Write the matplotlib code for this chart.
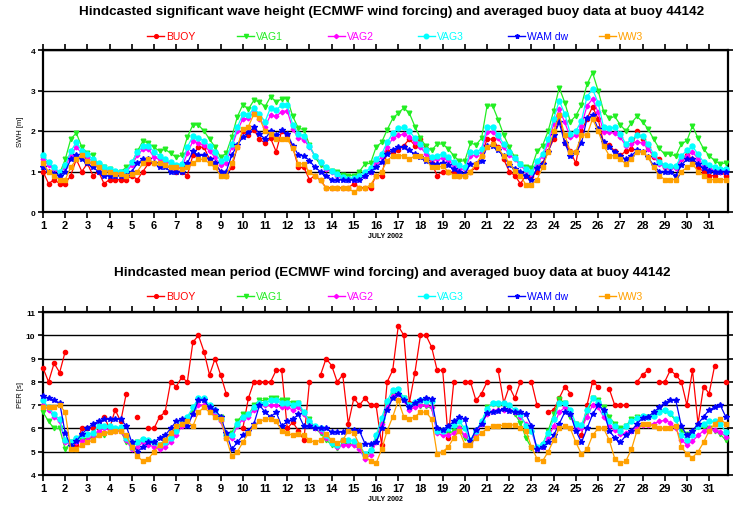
import numpy as np
import matplotlib
matplotlib.use('Agg')
import matplotlib.pyplot as plt
from matplotlib.lines import Line2D

plt.rcParams['font.family'] = ['Liberation Sans', 'DejaVu Sans']

# time axis: 6-hourly values, July 1.00 ... July 31.75
days = np.arange(1, 32, 0.25)
day_ticks = list(range(1, 32))
series_names = ['BUOY', 'VAG1', 'VAG2', 'VAG3', 'WAM dw', 'WW3']

# ---------------- significant wave height [m] ----------------
swh_buoy = [1.0, 0.7, 0.8, 0.7, 0.7, 0.9, 1.3, 1.0, 1.2, 0.9, 1.0, 0.7, 0.8, 0.8, 0.8, 0.8,
            0.9, 0.8, 1.0, 1.2, 1.2, 1.2, 1.15, 1.1, 1.0, 1.0, 0.9, 1.4, 1.6, 1.6, 1.3, 1.2,
            1.0, 0.9, 1.1, 1.6, 2.0, 1.9, 2.03, 1.8, 1.7, 1.82, 1.49, 2.0, 1.89, 1.6, 1.1, 1.1,
            0.8, 0.9, 0.78, 0.6, 0.6, 0.6, 0.6, 0.6, 0.7, 0.6, 0.6, 0.6, 0.9, 0.9, 1.5, 1.48,
            1.52, 1.64, 1.8, 1.64, 1.8, 1.56, 1.21, 0.9, 1.0, 1.0, 0.98, 0.9, 0.9, 1.0, 1.1, 1.39,
            1.8, 1.8, 1.6, 1.3, 1.0, 0.9, 0.7, 0.9, 0.9, 1.0, 1.2, 1.5, 1.8, 2.4, 1.7, 1.5,
            1.2, 2.0, 2.3, 2.6, 2.3, 1.7, 1.65, 1.5, 1.4, 1.5, 1.55, 2.0, 1.8, 1.6, 1.35, 1.3,
            1.1, 1.1, 1.1, 1.3, 1.4, 1.3, 1.1, 1.0, 0.9, 0.9, 1.0, 0.9]
swh_vag1 = [1.3, 1.2, 1.05, 0.95, 1.3, 1.8, 1.95, 1.6, 1.45, 1.4, 1.15, 1.1, 1.05, 1.0, 1.0, 1.1,
            1.2, 1.5, 1.75, 1.7, 1.6, 1.5, 1.55, 1.45, 1.35, 1.4, 1.85, 2.15, 2.15, 2.0, 1.8, 1.6,
            1.35, 1.45, 1.85, 2.35, 2.65, 2.54, 2.76, 2.72, 2.6, 2.85, 2.72, 2.79, 2.8, 2.36, 2.07, 2.03,
            1.66, 1.35, 1.16, 1.07, 1.02, 0.98, 0.92, 0.9, 0.9, 1.0, 1.19, 1.2, 1.6, 1.72, 2.03, 2.31,
            2.44, 2.57, 2.44, 2.11, 1.82, 1.62, 1.52, 1.68, 1.68, 1.56, 1.39, 1.25, 1.27, 1.7, 1.66, 1.82,
            2.62, 2.62, 2.28, 1.9, 1.6, 1.35, 1.19, 1.1, 1.08, 1.5, 1.64, 2.0, 2.5, 3.07, 2.7, 2.23,
            2.38, 2.64, 3.15, 3.44, 3.0, 2.48, 2.31, 2.36, 2.15, 2.0, 2.2, 2.36, 2.23, 2.05, 1.8, 1.57,
            1.43, 1.43, 1.38, 1.68, 1.76, 2.13, 1.82, 1.56, 1.39, 1.27, 1.19, 1.21]
swh_vag2 = [1.3, 1.15, 1.05, 0.95, 1.1, 1.4, 1.6, 1.45, 1.35, 1.25, 1.15, 1.05, 1.0, 1.0, 0.95, 1.0,
            1.15, 1.4, 1.55, 1.55, 1.35, 1.3, 1.25, 1.2, 1.1, 1.1, 1.45, 1.75, 1.7, 1.65, 1.5, 1.35,
            1.15, 1.2, 1.6, 2.0, 2.3, 2.31, 2.48, 2.3, 2.11, 2.39, 2.36, 2.48, 2.5, 2.05, 1.82, 1.79,
            1.6, 1.39, 1.23, 1.07, 0.98, 0.9, 0.84, 0.78, 0.78, 0.82, 0.9, 0.98, 1.23, 1.35, 1.6, 1.82,
            1.89, 1.93, 1.84, 1.72, 1.6, 1.43, 1.3, 1.3, 1.33, 1.27, 1.16, 1.07, 1.05, 1.39, 1.41, 1.48,
            1.98, 1.97, 1.82, 1.6, 1.41, 1.3, 1.15, 1.02, 0.94, 1.19, 1.38, 1.68, 2.17, 2.54, 2.21, 1.84,
            1.89, 2.13, 2.62, 2.79, 2.46, 1.97, 1.97, 1.95, 1.84, 1.64, 1.68, 1.74, 1.7, 1.56, 1.38, 1.19,
            1.1, 1.08, 1.08, 1.31, 1.39, 1.48, 1.31, 1.16, 1.08, 1.02, 1.0, 0.98]
swh_vag3 = [1.4, 1.23, 1.1, 0.98, 1.15, 1.5, 1.72, 1.5, 1.43, 1.3, 1.2, 1.1, 1.07, 1.02, 0.98, 1.02,
            1.23, 1.48, 1.62, 1.64, 1.48, 1.39, 1.3, 1.23, 1.16, 1.19, 1.6, 1.87, 1.82, 1.76, 1.64, 1.48,
            1.25, 1.33, 1.68, 2.09, 2.42, 2.4, 2.56, 2.42, 2.23, 2.58, 2.52, 2.64, 2.64, 2.15, 1.93, 1.87,
            1.62, 1.39, 1.23, 1.1, 1.02, 0.94, 0.86, 0.82, 0.84, 0.89, 1.0, 1.08, 1.31, 1.43, 1.72, 1.95,
            2.07, 2.09, 2.0, 1.82, 1.68, 1.52, 1.35, 1.39, 1.43, 1.35, 1.23, 1.15, 1.1, 1.48, 1.48, 1.56,
            2.11, 2.11, 1.89, 1.68, 1.48, 1.33, 1.19, 1.07, 0.98, 1.25, 1.43, 1.8, 2.3, 2.75, 2.42, 1.93,
            2.0, 2.25, 2.85, 3.03, 2.7, 2.09, 2.07, 2.09, 1.93, 1.68, 1.8, 1.89, 1.87, 1.68, 1.43, 1.23,
            1.15, 1.13, 1.13, 1.39, 1.52, 1.62, 1.43, 1.23, 1.16, 1.1, 1.07, 1.07]
swh_wam = [1.1, 1.0, 0.95, 0.9, 1.0, 1.3, 1.4, 1.3, 1.2, 1.1, 1.0, 0.9, 0.9, 0.9, 0.9, 0.9,
           1.0, 1.2, 1.3, 1.3, 1.2, 1.1, 1.1, 1.0, 1.0, 1.0, 1.2, 1.5, 1.4, 1.4, 1.3, 1.2,
           1.0, 1.0, 1.4, 1.65, 1.85, 1.97, 2.09, 1.93, 1.8, 2.0, 1.89, 2.03, 1.93, 1.64, 1.41, 1.39,
           1.27, 1.1, 1.0, 0.9, 0.8, 0.8, 0.8, 0.8, 0.8, 0.8, 0.9, 1.0, 1.1, 1.23, 1.43, 1.54,
           1.6, 1.6, 1.52, 1.43, 1.35, 1.27, 1.19, 1.19, 1.21, 1.15, 1.07, 0.98, 0.94, 1.19, 1.19, 1.25,
           1.62, 1.62, 1.52, 1.38, 1.16, 1.07, 1.0, 0.89, 0.8, 1.08, 1.19, 1.48, 1.89, 2.21, 1.7, 1.39,
           1.48, 1.7, 2.31, 2.39, 2.05, 1.72, 1.6, 1.48, 1.39, 1.3, 1.39, 1.52, 1.48, 1.35, 1.15, 1.0,
           1.0, 1.0, 0.9, 1.15, 1.31, 1.31, 1.19, 1.08, 1.02, 1.0, 1.0, 1.0]
swh_ww3 = [1.2, 1.0, 0.9, 0.8, 0.8, 1.1, 1.3, 1.4, 1.25, 1.2, 1.1, 1.0, 1.0, 0.95, 0.95, 0.9,
           0.95, 1.0, 1.2, 1.3, 1.2, 1.2, 1.15, 1.1, 1.1, 1.05, 1.1, 1.2, 1.3, 1.3, 1.2, 1.1,
           0.9, 0.9, 1.2, 1.6, 2.05, 2.11, 2.42, 2.31, 2.0, 1.93, 1.8, 1.8, 1.8, 1.57, 1.19, 1.19,
           0.98, 0.89, 0.78, 0.59, 0.59, 0.59, 0.59, 0.59, 0.49, 0.59, 0.59, 0.67, 0.89, 1.0, 1.27, 1.39,
           1.39, 1.39, 1.3, 1.39, 1.39, 1.31, 1.1, 1.1, 1.13, 1.0, 0.9, 0.9, 0.9, 1.0, 1.19, 1.39,
           1.6, 1.68, 1.57, 1.39, 1.21, 1.02, 0.9, 0.67, 0.67, 0.8, 1.1, 1.49, 2.0, 2.39, 1.9, 1.49,
           1.49, 1.9, 1.9, 2.3, 2.0, 1.64, 1.39, 1.39, 1.3, 1.19, 1.3, 1.49, 1.49, 1.35, 1.1, 0.9,
           0.8, 0.8, 0.8, 1.0, 1.1, 1.19, 1.0, 0.9, 0.8, 0.8, 0.8, 0.8]

# ---------------- mean period [s] (None = missing buoy record) ----------------
per_buoy = [8.6, 8.0, 8.8, 8.4, 9.3, None, 5.3, 6.0, 6.0, 6.0, 6.0, 6.5, 6.0, 6.8, 6.3, 7.5,
            None, 6.5, None, 6.0, 6.0, 6.5, 6.7, 8.0, 7.8, 8.2, 8.0, 9.7, 10.0, 9.3, 8.3, 9.0,
            8.3, 7.5, None, None, 6.0, 7.3, 8.0, 8.0, 8.0, 8.0, 8.5, 8.5, 6.0, 6.27, 5.9, 5.5,
            8.0, None, 8.3, 9.0, 8.7, 8.0, 8.3, 6.2, 7.3, 7.0, 7.3, 7.0, 7.0, 5.3, 8.0, 8.5,
            10.4, 10.0, 7.1, 8.4, 10.0, 10.0, 9.5, 8.5, 8.5, 5.6, 8.0, None, 8.0, 8.0, 7.2, 7.5,
            8.0, None, 8.5, 7.1, 7.8, 7.3, 8.0, None, 8.0, 7.0, None, 6.7, 6.8, 7.3, 7.8, 7.5,
            None, 5.7, 7.0, 8.0, 7.8, None, 7.7, 7.0, 7.0, 7.0, None, 8.0, 8.3, 8.5, None, 8.0,
            8.0, 8.5, 8.3, 8.0, 7.0, 8.5, 6.2, 7.8, 7.5, 8.7, None, 8.0]
per_vag1 = [6.7, 6.3, 6.0, 6.0, 5.1, 5.4, 5.5, 5.5, 5.5, 5.6, 5.7, 5.7, 5.9, 5.9, 5.9, 5.4,
            5.3, 5.4, 5.5, 5.45, 5.3, 5.3, 5.4, 5.6, 5.9, 6.2, 6.4, 6.8, 7.2, 7.2, 6.9, 6.7,
            6.5, 5.7, 5.8, 6.3, 6.6, 6.55, 7.0, 7.2, 7.2, 7.3, 7.3, 7.2, 7.2, 7.1, 7.1, 6.6,
            6.4, 6.0, 5.8, 5.5, 5.3, 5.15, 5.33, 5.3, 5.3, 5.1, 4.75, 5.0, 5.6, 6.2, 7.0, 7.5,
            7.65, 7.3, 7.0, 6.95, 6.95, 6.95, 6.87, 5.9, 5.87, 5.8, 5.87, 6.0, 5.6, 5.45, 5.9, 6.2,
            6.9, 7.05, 7.0, 7.0, 6.9, 6.6, 6.25, 5.6, 5.15, 5.1, 5.3, 5.9, 6.6, 7.25, 7.1, 6.5,
            6.2, 6.0, 6.7, 7.3, 7.2, 6.9, 6.5, 6.2, 6.0, 6.1, 6.4, 6.5, 6.5, 6.5, 6.6, 6.7,
            6.75, 6.6, 6.35, 5.9, 5.75, 5.85, 6.05, 6.05, 6.0, 5.9, 5.75, 5.5]
per_vag2 = [7.0, 6.8, 6.5, 6.3, 5.4, 5.3, 5.4, 5.45, 5.5, 5.7, 5.9, 6.0, 5.95, 5.9, 5.9, 5.5,
            5.1, 5.2, 5.4, 5.3, 5.2, 5.1, 5.2, 5.4, 5.7, 6.1, 6.3, 6.6, 7.0, 7.0, 6.8, 6.6,
            6.3, 5.6, 5.6, 6.1, 6.4, 6.5, 6.8, 7.0, 7.0, 7.0, 7.0, 6.9, 6.9, 6.8, 6.9, 6.6,
            6.3, 6.0, 5.9, 5.6, 5.4, 5.2, 5.3, 5.3, 5.3, 5.1, 4.7, 4.85, 5.4, 6.2, 6.9, 7.4,
            7.5, 7.2, 6.8, 6.9, 7.0, 7.0, 6.9, 5.8, 5.7, 5.7, 5.8, 6.0, 5.7, 5.4, 5.8, 6.2,
            6.6, 6.75, 6.8, 6.8, 6.8, 6.7, 6.5, 6.2, 5.9, 5.1, 5.2, 5.6, 6.1, 6.7, 6.9, 6.6,
            6.0, 6.0, 6.5, 7.0, 6.9, 6.5, 6.1, 5.95, 5.75, 5.8, 5.9, 6.05, 6.15, 6.15, 6.2, 6.3,
            6.35, 6.25, 6.0, 5.5, 5.3, 5.45, 5.7, 5.9, 6.0, 5.95, 5.85, 5.65]
per_vag3 = [7.2, 6.9, 6.6, 6.4, 5.5, 5.4, 5.6, 5.7, 5.75, 5.8, 6.1, 6.1, 6.1, 6.0, 6.05, 5.6,
            5.2, 5.4, 5.55, 5.5, 5.4, 5.3, 5.4, 5.6, 5.9, 6.3, 6.5, 6.9, 7.3, 7.3, 7.0, 6.8,
            6.4, 5.7, 5.7, 6.2, 6.5, 6.6, 6.9, 7.1, 7.1, 7.2, 7.2, 7.1, 7.1, 7.0, 7.1, 6.7,
            6.3, 6.1, 6.0, 5.7, 5.37, 5.3, 5.5, 5.5, 5.47, 5.3, 4.9, 5.08, 5.7, 6.45, 7.16, 7.66,
            7.7, 7.3, 7.0, 7.13, 7.23, 7.19, 7.16, 5.9, 5.87, 6.0, 6.16, 6.3, 6.0, 5.5, 5.9, 6.3,
            6.85, 7.1, 7.1, 7.1, 7.0, 6.8, 6.6, 6.1, 5.9, 5.2, 5.35, 5.8, 6.4, 7.1, 7.1, 6.8,
            6.2, 6.15, 6.8, 7.3, 7.15, 6.7, 6.3, 6.1, 5.9, 6.1, 6.3, 6.45, 6.55, 6.5, 6.55, 6.7,
            6.8, 6.65, 6.4, 5.7, 5.5, 5.7, 6.1, 6.2, 6.3, 6.3, 6.2, 5.85]
per_wam = [7.38, 7.3, 7.2, 7.1, 5.8, 5.25, 5.45, 5.75, 6.0, 6.2, 6.3, 6.4, 6.4, 6.4, 6.4, 6.1,
           5.4, 5.0, 5.2, 5.4, 5.4, 5.6, 5.7, 6.0, 6.3, 6.4, 6.1, 6.6, 7.2, 7.2, 6.9, 6.8,
           6.5, 5.8, 5.1, 5.4, 5.7, 5.9, 6.2, 7.0, 6.7, 6.5, 6.7, 6.1, 6.3, 6.4, 6.6, 6.1,
           6.1, 6.0, 6.0, 6.0, 5.85, 5.85, 5.85, 5.95, 5.95, 5.9, 5.35, 5.35, 5.4, 6.0, 6.8, 7.3,
           7.5, 7.2, 6.9, 7.1, 7.2, 7.3, 7.25, 6.0, 5.95, 6.1, 6.3, 6.5, 6.4, 5.45, 5.95, 6.2,
           6.65, 6.7, 6.75, 6.85, 6.75, 6.7, 6.7, 6.6, 6.1, 5.1, 5.2, 5.4, 5.7, 6.2, 6.7, 6.6,
           5.9, 5.4, 6.0, 6.6, 7.0, 6.8, 5.9, 5.6, 5.4, 5.7, 5.9, 6.2, 6.45, 6.5, 6.7, 6.9,
           7.1, 7.2, 7.2, 6.1, 5.7, 5.9, 6.2, 6.5, 6.8, 6.9, 7.0, 6.5]
per_ww3 = [6.9, 6.9, 6.9, 7.0, 6.7, 5.1, 5.1, 5.3, 5.4, 5.5, 5.7, 5.8, 5.85, 5.9, 5.9, 5.7,
           5.2, 4.8, 4.6, 4.7, 5.0, 5.3, 5.5, 5.8, 6.1, 6.2, 6.3, 6.1, 6.7, 6.9, 6.7, 6.5,
           6.4, 5.6, 4.8, 5.0, 5.4, 5.8, 6.1, 6.3, 6.4, 6.4, 6.3, 5.9, 5.8, 5.7, 5.75, 5.7,
           5.5, 5.4, 5.5, 5.75, 5.5, 5.37, 5.5, 5.9, 5.8, 5.3, 4.8, 4.6, 4.5, 5.1, 5.9, 6.5,
           7.2, 6.5, 6.4, 6.5, 6.7, 6.7, 6.4, 4.9, 5.0, 5.2, 5.6, 5.9, 5.3, 5.3, 5.6, 5.8,
           6.0, 6.1, 6.1, 6.15, 6.15, 6.15, 6.0, 5.9, 5.2, 4.7, 4.6, 5.0, 5.5, 6.0, 6.1, 6.0,
           5.4, 4.9, 5.1, 5.7, 6.0, 6.0, 5.5, 4.7, 4.5, 4.6, 5.1, 5.9, 6.2, 6.2, 6.1, 6.0,
           6.0, 6.0, 6.1, 5.2, 4.9, 4.75, 5.0, 5.4, 5.9, 6.2, 6.4, 6.2]

swh_series = [swh_buoy, swh_vag1, swh_vag2, swh_vag3, swh_wam, swh_ww3]
per_series = [per_buoy, per_vag1, per_vag2, per_vag3, per_wam, per_ww3]

colors = ['#ff0000', '#22ee22', '#ff00ff', '#00ffff', '#0000ff', '#ffa000']
markers = ['o', 'v', 'D', 'o', '*', 's']
msizes = [3.0, 3.3, 2.4, 3.6, 4.0, 3.0]

W, H = 749, 510
fig = plt.figure(figsize=(W / 100, H / 100), dpi=100)


def px(x, y):
    return x / W, 1 - y / H


def make_axes(top_px, bot_px):
    l, _ = px(43, 0)
    r, _ = px(728, 0)
    _, b = px(0, bot_px)
    _, t = px(0, top_px)
    return fig.add_axes([l, b, r - l, t - b])


def style_axes(ax, ylo, yhi):
    ax.set_xlim(1, 31.85)
    ax.set_ylim(ylo, yhi)
    ax.set_xticks(day_ticks)
    ax.set_xticklabels([str(d) for d in day_ticks], fontweight='bold', fontsize=8)
    ax.set_yticks(range(ylo, yhi + 1))
    ax.set_yticklabels([str(v) for v in range(ylo, yhi + 1)], fontsize=6, fontweight='bold')
    ax.tick_params(axis='x', direction='out', length=4, width=1.2, top=True, pad=1.5)
    ax.tick_params(axis='y', direction='out', length=3.5, width=1.2, right=True, pad=2)
    for s in ax.spines.values():
        s.set_linewidth(1.6)
    ax.grid(axis='y', color='black', linewidth=1.0)
    ax.set_axisbelow(True)


def draw_legend(y_px):
    for i, name in enumerate(series_names):
        x0 = 147 + 90.3 * i
        x1 = x0 + 17
        (fx0, fy), (fx1, _) = px(x0, y_px), px(x1, y_px)
        fig.add_artist(Line2D([fx0, fx1], [fy, fy], color=colors[i], lw=1.0,
                              transform=fig.transFigure))
        fig.add_artist(Line2D([(fx0 + fx1) / 2], [fy], color=colors[i], marker=markers[i],
                              markersize=msizes[i] * 0.9, lw=0, transform=fig.transFigure))
        tx, ty = px(x1 + 2, y_px)
        fig.text(tx, ty, name, color=colors[i], fontsize=7.5, ha='left', va='center')


panels = [
    (51, 213, 0, 4, swh_series, 'SWH [m]',
     'Hindcasted significant wave height (ECMWF wind forcing) and averaged buoy data at buoy 44142',
     12, 37, 237),
    (313, 476, 4, 11, per_series, 'PER [s]',
     'Hindcasted mean period (ECMWF wind forcing) and averaged buoy data at buoy 44142',
     273, 297, 500),
]

for top_px, bot_px, ylo, yhi, series, ylab, title, ty_px, leg_px, xl_px in panels:
    ax = make_axes(top_px, bot_px)
    style_axes(ax, ylo, yhi)
    for i, vals in enumerate(series):
        ax.plot(days, np.array(vals, dtype=float), color=colors[i], marker=markers[i],
                markersize=msizes[i], lw=0.9, zorder=3 + i, clip_on=False)
    tx, tyy = px(392, ty_px)
    fig.text(tx, tyy, title, fontsize=9.7, fontweight='bold', ha='center', va='center')
    draw_legend(leg_px)
    lx, ly = px(385, xl_px)
    fig.text(lx, ly, 'JULY 2002', fontsize=5, fontweight='bold', ha='center', va='center')
    yx, yy = px(20, (top_px + bot_px) / 2)
    fig.text(yx, yy, ylab, fontsize=5.5, rotation=90, ha='center', va='center')

fig.savefig('out.png', dpi=100)
